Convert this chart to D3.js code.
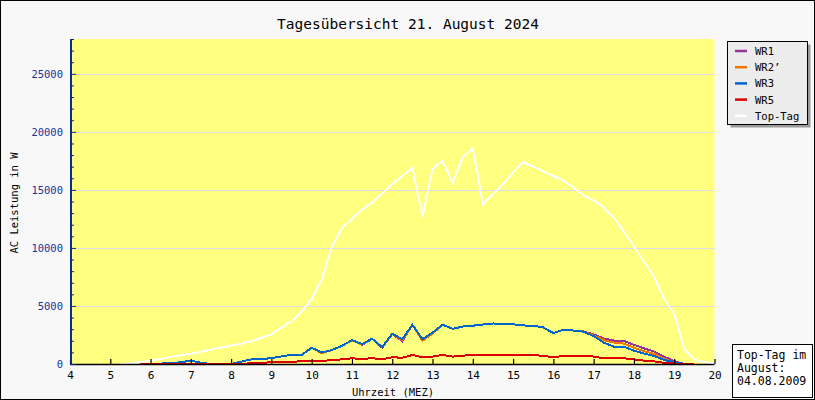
<!DOCTYPE html>
<html>
  <head>
    <meta http-equiv="Content-Type" content="text/html; charset=UTF-8" />
    <title>Tagesübersicht</title>
    <script src="https://d3js.org/d3.v7.min.js"></script>
    <style>
      body { margin: 0; background: #fff; }
      svg { display: block; font-family: "DejaVu Sans Mono", monospace; }
      .domain { display: none; }
    </style>
  </head>
  <body>
    <script type="text/javascript">
    // Uhrzeit in Stunden (Viertelstunden-Raster)
    var times = [5.25,5.5,5.75,6,6.25,6.5,6.75,7,7.25,7.5,7.75,8,8.25,8.5,8.75,9,9.25,9.5,9.75,10,
      10.25,10.5,10.75,11,11.25,11.5,11.75,12,12.25,12.5,12.75,13,13.25,13.5,13.75,14,14.25,14.5,14.75,15,
      15.25,15.5,15.75,16,16.25,16.5,16.75,17,17.25,17.5,17.75,18,18.25,18.5,18.75,19,19.25,19.5,19.75,20];

    var wr1 = [null,null,0,20,40,60,150,290,120,0,0,0,200,400,430,500,650,800,780,1400,
      980,1200,1560,2050,1650,2170,1400,2600,1950,3380,2050,2700,3380,3030,3230,3300,3400,3490,3480,3420,
      3320,3300,3150,2660,2950,2880,2800,2550,2200,2020,2000,1650,1350,1070,630,250,0,null,null,null];

    var wr2 = [null,null,0,20,40,60,150,290,120,0,0,0,200,400,430,500,650,800,780,1400,
      930,1200,1560,2050,1680,2170,1450,2600,2050,3380,2000,2620,3380,3030,3230,3300,3400,3490,3480,3420,
      3320,3300,3150,2660,2950,2880,2790,2480,2050,1850,1760,1400,1100,870,480,100,0,null,null,null];

    var wr3 = [null,null,0,20,40,60,150,290,120,0,0,0,200,400,430,500,650,800,780,1400,
      980,1200,1560,2050,1730,2170,1450,2600,2140,3380,2140,2700,3380,3030,3230,3300,3400,3490,3480,3420,
      3320,3300,3150,2660,2950,2880,2780,2400,1850,1500,1500,1150,900,690,350,150,0,null,null,null];

    var wr5 = [null,null,0,0,0,10,20,30,20,10,10,10,30,50,100,150,180,200,230,290,
      270,330,400,490,430,500,400,580,540,780,580,640,780,630,720,780,780,790,790,790,
      780,780,700,580,690,690,690,640,490,490,490,400,290,230,100,30,10,0,null,null];

    var topTag = [0,50,150,280,430,600,750,880,1050,1250,1420,1580,1750,1950,2250,2550,3150,3700,4500,5600,
      7300,10100,11700,12500,13300,13900,14700,15500,16200,16900,12700,16800,17500,15600,17800,18600,13800,14600,15500,16500,
      17400,17000,16600,16200,15800,15200,14500,14100,13500,12600,11400,10100,8800,7500,5600,4300,1300,400,150,50];

    var seriesNames = ["WR1", "WR2\u2019", "WR3", "WR5", "Top-Tag"];
    var seriesData = [wr1, wr2, wr3, wr5, topTag];
    var seriesColors = ["#993399", "#f07800", "#0066cc", "#dd0000", "#ffffff"];

    var xTicks = [4,5,6,7,8,9,10,11,12,13,14,15,16,17,18,19,20];
    var yTicks = [0,5000,10000,15000,20000,25000];
    var infoLines = ["Top-Tag im", "August:", "04.08.2009"];

    var W = 815, H = 400;
    var svg = d3.select("body").append("svg").attr("width", W).attr("height", H);

    svg.append("rect").attr("x", 0.5).attr("y", 0.5).attr("width", W - 1).attr("height", H - 1)
      .attr("fill", "#f8f8f8").attr("stroke", "#000");

    var x = d3.scaleLinear().domain([4, 20]).range([70, 714.5]);
    var y = d3.scaleLinear().domain([0, 28000]).range([364, 39]);

    // Plotfläche
    svg.append("rect").attr("x", x(4)).attr("y", y(28000))
      .attr("width", x(20) - x(4)).attr("height", y(0) - y(28000)).attr("fill", "#ffff80");

    // Gitter
    svg.append("g").selectAll("line").data(yTicks.slice(1)).enter().append("line")
      .attr("x1", x(4)).attr("x2", x(20)).attr("y1", function(d){ return Math.round(y(d)) + 0.5; })
      .attr("y2", function(d){ return Math.round(y(d)) + 0.5; })
      .attr("stroke", "#dcdce8").attr("stroke-width", 1.2);

    // Linien
    var line = d3.line()
      .defined(function(d){ return d[1] !== null; })
      .x(function(d){ return x(d[0]); })
      .y(function(d){ return y(d[1]); });

    for (var i = 0; i < seriesData.length; i++) {
      var pts = times.map(function(t, j){ return [t, seriesData[i][j]]; });
      svg.append("path").datum(pts)
        .attr("d", line)
        .attr("fill", "none")
        .attr("stroke", seriesColors[i])
        .attr("stroke-width", 2)
        .attr("shape-rendering", "crispEdges");
    }

    // x-Achse
    svg.append("line").attr("x1", x(4)).attr("x2", x(20)).attr("y1", 364.5).attr("y2", 364.5)
      .attr("stroke", "#000").attr("stroke-width", 1.5);
    var gx = svg.append("g").attr("transform", "translate(0,364)")
      .call(d3.axisTop(x).tickValues(xTicks).tickSize(5).tickFormat(""));
    gx.selectAll("line").attr("stroke", "#000").attr("stroke-width", 1.2);
    var gxl = svg.append("g").attr("transform", "translate(0,368)")
      .call(d3.axisBottom(x).tickValues(xTicks).tickSize(0).tickFormat(d3.format("d")));
    gxl.selectAll("text").attr("font-family", "DejaVu Sans Mono").attr("font-size", 11).attr("fill", "#000");

    // y-Achse
    var gy = svg.append("g").attr("transform", "translate(70,0)")
      .call(d3.axisRight(y).tickValues(d3.range(0, 28001, 1000)).tickSize(4).tickFormat(""));
    gy.selectAll("line").attr("stroke", "#0a2a7c").attr("stroke-width", 1)
      .attr("x2", function(d){ return d % 5000 === 0 ? 6 : 4; });
    svg.append("line").attr("x1", 71).attr("x2", 71).attr("y1", y(28000)).attr("y2", 365)
      .attr("stroke", "#0a2a8c").attr("stroke-width", 2);
    var gyl = svg.append("g").attr("transform", "translate(66,0)")
      .call(d3.axisLeft(y).tickValues(yTicks).tickSize(0).tickPadding(3).tickFormat(d3.format("d")));
    gyl.selectAll("text").attr("font-family", "DejaVu Sans Mono").attr("font-size", 10.5).attr("fill", "#1a3399");

    // Titel und Beschriftungen
    svg.append("text").attr("x", 408).attr("y", 29).attr("text-anchor", "middle")
      .attr("font-size", 14.5).attr("fill", "#000").text("Tagesübersicht 21. August 2024");
    svg.append("text").attr("transform", "translate(18,203) rotate(-90)").attr("text-anchor", "middle")
      .attr("font-size", 10.5).attr("fill", "#000").text("AC Leistung in W");
    svg.append("text").attr("x", 393).attr("y", 396).attr("text-anchor", "middle")
      .attr("font-size", 10.5).attr("fill", "#000").text("Uhrzeit (MEZ)");

    // Legende
    var lg = svg.append("g");
    lg.append("rect").attr("x", 730.5).attr("y", 44.5).attr("width", 80).attr("height", 83).attr("fill", "#999");
    lg.append("rect").attr("x", 727.5).attr("y", 41.5).attr("width", 80).attr("height", 83)
      .attr("fill", "#ececec").attr("stroke", "#000");
    seriesNames.forEach(function(n, k){
      var yy = 51 + k * 16.2;
      lg.append("line").attr("x1", 735).attr("x2", 747).attr("y1", yy).attr("y2", yy)
        .attr("stroke", seriesColors[k]).attr("stroke-width", 2.5);
      lg.append("text").attr("x", 755).attr("y", yy + 4).attr("font-size", 10.5).attr("fill", "#000").text(n);
    });

    // Info-Box
    svg.append("rect").attr("x", 732.5).attr("y", 344.5).attr("width", 80).attr("height", 53)
      .attr("fill", "#fff").attr("stroke", "#000");
    infoLines.forEach(function(t, k){
      svg.append("text").attr("x", 737).attr("y", 359 + k * 13).attr("font-size", 11.5).attr("fill", "#000").text(t);
    });
    </script>
  </body>
</html>
